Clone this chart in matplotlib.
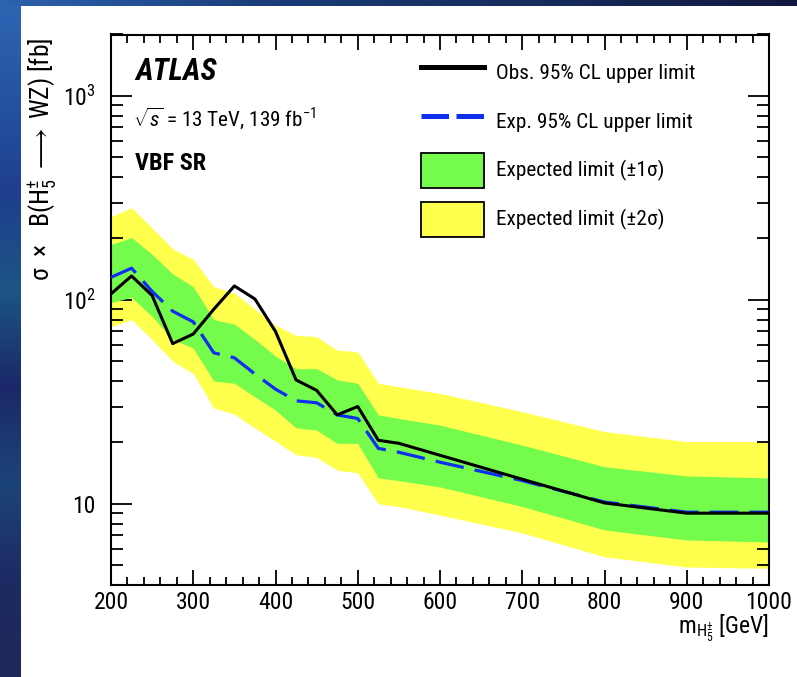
import numpy as np
import matplotlib
matplotlib.use("Agg")
import matplotlib.pyplot as plt
from matplotlib import font_manager
from matplotlib.colors import LinearSegmentedColormap
from matplotlib.lines import Line2D
from matplotlib.patches import Patch, Rectangle
from matplotlib.ticker import MultipleLocator, LogLocator, FuncFormatter, NullFormatter

# prefer a narrow sans face if one is installed
installed = {f.name for f in font_manager.fontManager.ttflist}
narrow = [n for n in ["Roboto Condensed", "Liberation Sans Narrow", "DejaVu Sans Condensed",
                      "Open Sans Condensed"] if n in installed]
FONT = narrow + ["Liberation Sans", "DejaVu Sans"]
plt.rcParams["font.family"] = FONT
plt.rcParams["mathtext.fontset"] = "custom"
plt.rcParams["mathtext.rm"] = FONT[0]
plt.rcParams["mathtext.it"] = FONT[0] + ":italic"
plt.rcParams["mathtext.bf"] = FONT[0] + ":bold"
plt.rcParams["mathtext.sf"] = FONT[0]

# limits vs. H5 mass
mass = [200, 225, 250, 275, 300, 325, 350, 375, 400, 425, 450, 475, 500,
        525, 550, 600, 700, 800, 900, 1000]
obs_limit = [107, 131, 105, 61, 68, 90, 117, 101, 70, 40.5, 36, 27.3, 30,
             20.5, 19.8, 17.3, 13.2, 10.1, 9.0, 9.0]
exp_limit = [129, 143, 110, 88, 78, 55, 52, 43.3, 36.5, 32, 31.3, 27.3, 26.2,
             18.7, 17.9, 16.0, 13.0, 10.2, 9.1, 9.1]
exp_1s_up = [187, 202, 167, 134, 116, 80, 76, 64, 53, 46, 46, 40.5, 39,
             27.3, 26.2, 24.3, 19.4, 15.2, 13.7, 13.4]
exp_1s_dn = [97, 103, 83, 64, 58, 40, 39, 33.5, 28.8, 23.6, 23, 19.8, 19.8,
             13.4, 13.0, 12.1, 9.7, 7.45, 6.65, 6.5]
exp_2s_up = [256, 283, 225, 178, 158, 116, 108, 90, 75, 67, 66, 56.7, 55.6,
             39, 37.5, 34.8, 28.3, 22.6, 20.2, 20.2]
exp_2s_dn = [74, 80, 64, 50, 43.5, 29.5, 27.5, 23.5, 20.3, 17.4, 16.9, 14.6, 14.2,
             10.0, 9.7, 8.8, 7.2, 5.5, 4.9, 4.83]

GREEN = "#74fb4c"
YELLOW = "#ffff4d"
BLUE = "#0f2ff0"

# narrow faces allow the full size; otherwise scale the text down to fit
SCALE = 1.0 if narrow else 0.84

W, H = 797, 677
fig = plt.figure(figsize=(W / 100, H / 100), dpi=100)
fig.patch.set_facecolor("white")

# slide frame: blue gradient strips on the left and top
bg = fig.add_axes([0, 0, 1, 1], zorder=-10)
bg.set_xlim(0, W)
bg.set_ylim(H, 0)
bg.axis("off")
left_cmap = LinearSegmentedColormap.from_list(
    "left", ["#2e66b4", "#2553a3", "#1f3f8e", "#1c5584", "#1a2869", "#1d4478", "#1c2b63", "#20285a"])
top_cmap = LinearSegmentedColormap.from_list("top", ["#2d62b0", "#1a3d78", "#162c5c", "#121840"])
bg.imshow(np.linspace(0, 1, 256)[:, None], cmap=left_cmap, aspect="auto",
          extent=(0, 21, H, 0))
bg.imshow(np.linspace(0, 1, 256)[None, :], cmap=top_cmap, aspect="auto",
          extent=(0, W, 6, 0))
bg.add_patch(Rectangle((21, 6), W - 21, H - 6, facecolor="white", edgecolor="none"))

ax = fig.add_axes([111 / W, 1 - 585 / H, (769 - 111) / W, (585 - 34.5) / H])

ax.fill_between(mass, exp_2s_dn, exp_2s_up, color=YELLOW, linewidth=0, zorder=1)
ax.fill_between(mass, exp_1s_dn, exp_1s_up, color=GREEN, linewidth=0, zorder=2)
exp_line, = ax.plot(mass, exp_limit, color=BLUE, linewidth=2.3, zorder=3)
exp_line.set_dashes((9, 3.5))
ax.plot(mass, obs_limit, color="black", linewidth=2.2, zorder=4)

ax.set_yscale("log")
ax.set_xlim(200, 1000)
ax.set_ylim(4, 2000)
ax.xaxis.set_major_locator(MultipleLocator(100))
ax.xaxis.set_minor_locator(MultipleLocator(20))
ax.yaxis.set_major_locator(LogLocator(base=10))
ax.yaxis.set_minor_locator(LogLocator(base=10, subs=np.arange(2, 10)))
ax.yaxis.set_minor_formatter(NullFormatter())
ax.yaxis.set_major_formatter(FuncFormatter(
    lambda v, pos: "10" if abs(v - 10) < 1e-6 else r"$10^{%d}$" % round(np.log10(v))))

for spine in ax.spines.values():
    spine.set_linewidth(1.5)
ax.tick_params(which="both", direction="in", top=True, right=True, width=1.3,
               labelsize=17 * SCALE)
ax.tick_params(axis="x", which="major", length=11, pad=4)
ax.tick_params(axis="x", which="minor", length=5.5)
ax.tick_params(axis="y", which="major", length=15, pad=11)
ax.tick_params(axis="y", which="minor", length=8.5)

fig.text(769 / W, 1 - 628 / H, r"m$_{\mathrm{H}_5^{\pm}}$ [GeV]", ha="right",
         va="center", fontsize=17 * SCALE)
fig.text(43 / W, 1 - 38 / H,
         r"σ  ×   B(H$_5^{\pm}$ $\longrightarrow$ WZ) [fb]", rotation=90,
         ha="center", va="top", fontsize=18.5 * SCALE)

ax.text(135 / W, 1 - 72 / H, "ATLAS", transform=fig.transFigure, fontsize=22 * SCALE,
        fontweight="bold", fontstyle="italic", va="center", ha="left")
ax.text(133 / W, 1 - 118 / H, r"$\sqrt{s}$ = 13 TeV, 139 fb$^{-1}$",
        transform=fig.transFigure, fontsize=15.2 * SCALE, va="center", ha="left")
ax.text(135 / W, 1 - 163 / H, "VBF SR", transform=fig.transFigure, fontsize=17.5 * SCALE,
        fontweight="bold", va="center", ha="left")

fs = 15.3 * SCALE
hh = (25.2 / fs - 0.245) / 0.65
handles = [
    Line2D([], [], color="black", linewidth=3.6),
    Line2D([], [], color=BLUE, linewidth=3.6, dashes=(5.5, 1.5)),
    Patch(facecolor=GREEN, edgecolor="black", linewidth=1.3),
    Patch(facecolor=YELLOW, edgecolor="black", linewidth=1.3),
]
labels = ["Obs. 95% CL upper limit", "Exp. 95% CL upper limit",
          "Expected limit (±1σ)", "Expected limit (±2σ)"]
ax.legend(handles, labels, loc="upper left", bbox_to_anchor=(421 / W, 1 - 54.5 / H),
          bbox_transform=fig.transFigure, frameon=False, fontsize=fs,
          borderpad=0, borderaxespad=0, handlelength=45 / fs, handleheight=hh,
          handletextpad=9 / fs, labelspacing=10.1 / fs)

fig.savefig("out.png", dpi=100)
